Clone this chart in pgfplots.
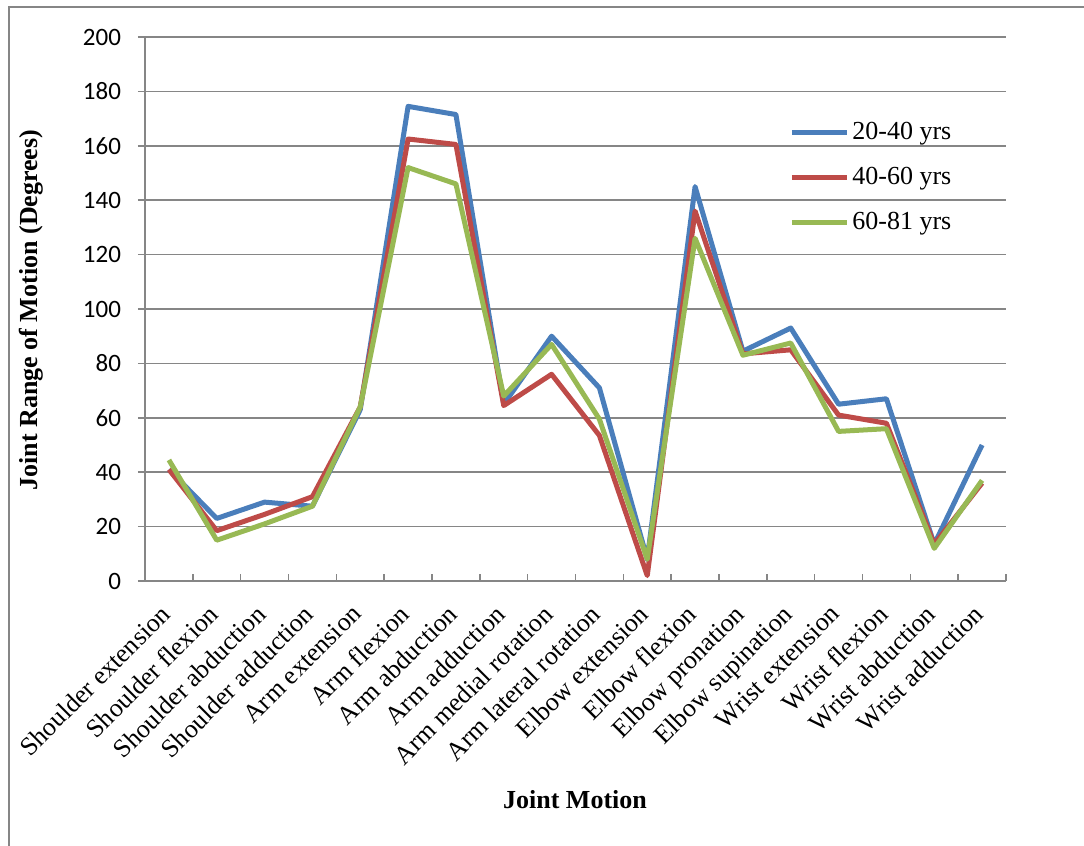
\documentclass[border=0pt]{standalone}
\usepackage{pgfplots}
\pgfplotsset{compat=1.18}
\usepackage{fontspec}
\setmainfont{Liberation Serif}
\newfontfamily\calibri{Carlito}
\definecolor{ser1}{HTML}{4A7EBB}
\definecolor{ser2}{HTML}{BE4B48}
\definecolor{ser3}{HTML}{98B954}
\definecolor{gridgray}{HTML}{868686}

\begin{document}
\begin{tikzpicture}[x=0.5pt,y=-0.5pt]
\path[use as bounding box] (0,0) rectangle (1084,846);
% chart frame
\draw[gridgray, line width=0.6pt] (9,870) -- (9,7) -- (1100,7);
\begin{axis}[
  at={(72.5pt,-290.5pt)}, anchor=south west,
  scale only axis, width=430.5pt, height=272pt,
  xmin=-0.5, xmax=17.5, ymin=0, ymax=200,
  axis x line*=bottom, axis y line*=left,
  axis line style={gridgray, line width=0.8pt},
  tick align=outside,
  ytick={0,20,...,200},
  ymajorgrids,
  major grid style={gridgray, line width=0.8pt},
  major tick length=3.5pt,
  minor tick length=3.5pt,
  ytick style={gridgray, line width=0.8pt},
  yticklabel style={font=\calibri\fontsize{12.5}{14}\selectfont, xshift=-5pt},
  /pgf/number format/assume math mode=true,
  xtick={0,...,17},
  major x tick style={draw=none},
  minor xtick={-0.5,0.5,...,17.5},
  minor x tick style={gridgray, line width=0.8pt, yshift=3.5pt},
  xticklabels={Shoulder extension, Shoulder flexion, Shoulder abduction,
    Shoulder adduction, Arm extension, Arm flexion, Arm abduction,
    Arm adduction, Arm medial rotation, Arm lateral rotation,
    Elbow extension, Elbow flexion, Elbow pronation, Elbow supination,
    Wrist extension, Wrist flexion, Wrist abduction, Wrist adduction},
  xticklabel style={xshift=-5pt, yshift=-6pt, rotate=45, anchor=north east,
    font=\fontsize{13}{15}\selectfont, inner sep=1pt},
  legend style={draw=none, fill=none, at={(0.741,0.859)}, anchor=north west,
    font=\fontsize{13}{15}\selectfont, row sep=8.5pt,
    nodes={inner xsep=1.5pt}},
  legend cell align=left,
  legend image code/.code={\draw[#1] (0pt,0pt) -- (27.5pt,0pt);},
  every axis plot/.append style={line width=2.5pt, line join=round},
]
\addplot[ser1] coordinates {
  (0,41) (1,23) (2,29) (3,27.5) (4,63) (5,174.5) (6,171.5) (7,65) (8,90)
  (9,71) (10,8) (11,145) (12,84.5) (13,93) (14,65) (15,67) (16,13.5) (17,50)};
\addlegendentry{20-40 yrs}
\addplot[ser2] coordinates {
  (0,41) (1,18.5) (2,24.5) (3,31) (4,64) (5,162.5) (6,160.5) (7,64.5) (8,76)
  (9,53.5) (10,2) (11,136) (12,83.5) (13,85) (14,61) (15,58) (16,13.5) (17,36)};
\addlegendentry{40-60 yrs}
\addplot[ser3] coordinates {
  (0,44.5) (1,15) (2,21) (3,27.5) (4,64) (5,152) (6,146) (7,68) (8,87)
  (9,59.5) (10,8) (11,126) (12,83) (13,87.5) (14,55) (15,56) (16,12) (17,37)};
\addlegendentry{60-81 yrs}
\end{axis}
\node[rotate=90, font=\bfseries\fontsize{13}{15}\selectfont] at (31,310) {Joint Range of Motion (Degrees)};
\node[font=\bfseries\fontsize{13}{15}\selectfont] at (575,800) {Joint Motion};
\end{tikzpicture}
\end{document}
